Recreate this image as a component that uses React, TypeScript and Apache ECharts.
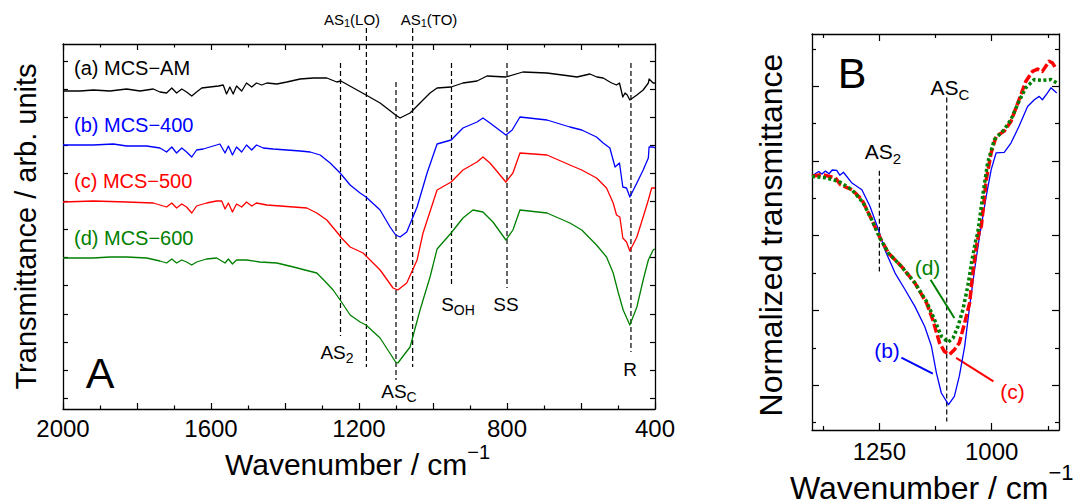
import { useEffect, useRef } from 'react';
import * as echarts from 'echarts';

const FAM = '"Liberation Sans", Arial, sans-serif';
const TICKFAM = '"Liberation Sans", Arial, sans-serif';

// ---------- Panel A data: [wavenumber (cm-1), transmittance (arb. units, offset)] ----------
const mcsAM: [number, number][] = [
  [2000, 3.18], [1954, 3.18], [1918, 3.19], [1873, 3.18], [1828, 3.2], [1792, 3.18], [1756, 3.2], [1738, 3.17],
  [1720, 3.16], [1706, 3.21], [1693, 3.16], [1679, 3.2], [1666, 3.17], [1652, 3.13], [1639, 3.17], [1625, 3.21],
  [1603, 3.22], [1580, 3.23], [1567, 3.24], [1558, 3.15], [1549, 3.22], [1540, 3.15], [1531, 3.23], [1517, 3.18],
  [1504, 3.26], [1490, 3.22], [1477, 3.26], [1463, 3.24], [1449, 3.26], [1422, 3.25], [1395, 3.27], [1359, 3.3],
  [1323, 3.31], [1287, 3.31], [1260, 3.27], [1249, 3.28], [1181, 3.14], [1143, 3.06], [1101, 2.94], [1089, 2.91],
  [1062, 2.96], [1035, 3.06], [1008, 3.16], [989, 3.21], [951, 3.22], [919, 3.26], [881, 3.28], [854, 3.33],
  [803, 3.32], [757, 3.37], [692, 3.36], [630, 3.33], [611, 3.32], [576, 3.35], [557, 3.32], [540, 3.31],
  [522, 3.27], [517, 3.26], [504, 3.24], [496, 3.26], [487, 3.12], [481, 3.16], [475, 3.14], [468, 3.09],
  [449, 3.14], [432, 3.19], [418, 3.26], [416, 3.3], [405, 3.26], [400, 3.26],
];
const mcs400: [number, number][] = [
  [2000, 2.64], [1918, 2.64], [1864, 2.65], [1828, 2.63], [1774, 2.63], [1738, 2.61], [1720, 2.57], [1706, 2.62],
  [1693, 2.56], [1679, 2.61], [1666, 2.57], [1652, 2.52], [1639, 2.59], [1621, 2.6], [1594, 2.63], [1576, 2.65],
  [1562, 2.56], [1553, 2.63], [1542, 2.54], [1531, 2.62], [1517, 2.57], [1504, 2.64], [1490, 2.59], [1477, 2.64],
  [1459, 2.61], [1432, 2.6], [1395, 2.59], [1359, 2.58], [1332, 2.57], [1305, 2.54], [1278, 2.46], [1251, 2.36],
  [1224, 2.24], [1197, 2.16], [1181, 2.12], [1143, 1.99], [1116, 1.82], [1101, 1.74], [1089, 1.72], [1071, 1.77],
  [1043, 2.02], [1016, 2.36], [989, 2.65], [951, 2.69], [919, 2.81], [881, 2.87], [865, 2.91], [846, 2.86],
  [803, 2.74], [786, 2.79], [765, 2.92], [692, 2.89], [630, 2.82], [598, 2.79], [558, 2.72], [540, 2.66],
  [522, 2.61], [508, 2.42], [496, 2.46], [487, 2.22], [477, 2.21], [468, 2.12], [449, 2.26], [432, 2.39],
  [418, 2.51], [416, 2.62], [405, 2.62], [400, 2.61],
];
const mcs500: [number, number][] = [
  [2000, 2.07], [1918, 2.08], [1828, 2.07], [1756, 2.06], [1738, 2.04], [1720, 2.02], [1706, 2.06], [1693, 2.01],
  [1679, 2.05], [1666, 2.02], [1652, 1.96], [1639, 2.03], [1612, 2.06], [1585, 2.08], [1571, 2.08], [1562, 2.0],
  [1553, 2.06], [1542, 1.97], [1531, 2.05], [1517, 2.02], [1504, 2.07], [1490, 2.03], [1477, 2.06], [1449, 2.04],
  [1413, 2.03], [1377, 2.02], [1341, 2.01], [1314, 1.96], [1287, 1.89], [1260, 1.77], [1247, 1.71], [1224, 1.62],
  [1189, 1.56], [1143, 1.39], [1108, 1.21], [1095, 1.19], [1071, 1.26], [1043, 1.49], [1027, 1.76], [989, 2.19],
  [951, 2.27], [919, 2.39], [881, 2.47], [865, 2.52], [846, 2.46], [803, 2.27], [784, 2.36], [765, 2.56],
  [692, 2.54], [630, 2.44], [598, 2.39], [558, 2.31], [531, 2.21], [513, 2.06], [504, 1.94], [495, 1.92],
  [487, 1.71], [477, 1.67], [468, 1.58], [449, 1.72], [432, 1.92], [418, 2.09], [409, 2.21], [400, 2.21],
];
const mcs600: [number, number][] = [
  [2000, 1.51], [1918, 1.51], [1873, 1.52], [1828, 1.52], [1774, 1.51], [1738, 1.48], [1720, 1.46], [1706, 1.5],
  [1693, 1.46], [1679, 1.49], [1666, 1.47], [1652, 1.44], [1639, 1.47], [1612, 1.5], [1585, 1.51], [1562, 1.46],
  [1553, 1.5], [1542, 1.45], [1531, 1.49], [1504, 1.49], [1468, 1.47], [1422, 1.46], [1377, 1.42], [1346, 1.39],
  [1314, 1.36], [1290, 1.27], [1270, 1.19], [1251, 1.09], [1224, 0.94], [1197, 0.87], [1181, 0.84], [1143, 0.71],
  [1101, 0.47], [1095, 0.46], [1062, 0.62], [1035, 0.99], [1008, 1.32], [989, 1.6], [951, 1.76], [919, 1.91],
  [892, 1.99], [865, 1.97], [838, 1.87], [803, 1.69], [784, 1.79], [765, 1.99], [692, 1.96], [630, 1.86],
  [598, 1.79], [558, 1.64], [531, 1.52], [513, 1.36], [499, 1.16], [486, 0.99], [468, 0.84], [449, 1.02],
  [432, 1.29], [418, 1.49], [405, 1.59], [400, 1.6],
];

// ---------- Panel B data: [wavenumber, normalized transmittance] ----------
const normB400: [number, number][] = [
  [1400, 0.759], [1393, 0.766], [1385, 0.772], [1378, 0.765], [1370, 0.773], [1362, 0.766], [1355, 0.776],
  [1345, 0.775], [1338, 0.762], [1330, 0.77], [1311, 0.741], [1289, 0.723], [1271, 0.679], [1252, 0.616],
  [1238, 0.563], [1215, 0.5], [1193, 0.456], [1171, 0.411], [1149, 0.357], [1134, 0.304], [1123, 0.233],
  [1112, 0.179], [1096, 0.148], [1083, 0.17], [1072, 0.224], [1060, 0.304], [1049, 0.411], [1038, 0.509],
  [1027, 0.598], [1012, 0.706], [1001, 0.777], [990, 0.822], [972, 0.823], [957, 0.848], [939, 0.893],
  [920, 0.946], [905, 0.964], [894, 0.973], [887, 0.964], [876, 0.982], [868, 0.996], [855, 0.982],
];
const normB500: [number, number][] = [
  [1400, 0.759], [1378, 0.764], [1348, 0.755], [1337, 0.737], [1311, 0.723], [1289, 0.697], [1267, 0.643],
  [1249, 0.596], [1230, 0.554], [1201, 0.518], [1171, 0.474], [1145, 0.42], [1131, 0.375], [1116, 0.313],
  [1105, 0.29], [1094, 0.282], [1083, 0.295], [1072, 0.313], [1060, 0.367], [1049, 0.42], [1042, 0.5],
  [1035, 0.563], [1027, 0.616], [1023, 0.625], [1012, 0.75], [1001, 0.822], [990, 0.866], [972, 0.88],
  [957, 0.906], [939, 0.964], [924, 1.013], [909, 1.04], [898, 1.046], [887, 1.04], [872, 1.067], [865, 1.063],
  [855, 1.045],
];
const normB600: [number, number][] = [
  [1400, 0.759], [1370, 0.755], [1341, 0.746], [1311, 0.723], [1286, 0.688], [1267, 0.643], [1249, 0.594],
  [1230, 0.554], [1201, 0.518], [1171, 0.474], [1145, 0.424], [1127, 0.375], [1112, 0.331], [1097, 0.315],
  [1086, 0.326], [1075, 0.357], [1064, 0.402], [1053, 0.465], [1045, 0.527], [1035, 0.59], [1031, 0.607],
  [1020, 0.706], [1009, 0.795], [994, 0.857], [972, 0.884], [957, 0.911], [939, 0.96], [924, 0.996],
  [905, 1.018], [887, 1.016], [868, 1.018], [855, 1.009],
];

// ---------- axes / ticks ----------
const tickLabelsA = [2000, 1600, 1200, 800, 400];
const yTicksA = [0.11, 0.39, 0.67, 0.95, 1.24, 1.52, 1.8, 2.08, 2.36, 2.64, 2.92, 3.2, 3.48];
const tickLabelsB = [1250, 1000];
const minorXTicksB = [1375, 1125, 875];
const majorYTicksB = [0.2, 0.4, 0.6, 0.8, 1.0];
const minorYTicksB = [0.1, 0.3, 0.5, 0.7, 0.9, 1.1];

// band marker lines: [wavenumber, top, bottom]
const bandLinesA: [number, number, number][] = [
  [1250, 3.46, 0.73], [1180, 3.81, 0.42], [1100, 3.27, 0.29], [1055, 3.81, 0.42],
  [950, 3.46, 1.22], [800, 3.46, 1.21], [465, 3.46, 0.57],
];
const bandLinesB: [number, number, number][] = [
  [1250, 0.774, 0.504], [1100, 0.97, 0.103],
];
// leader lines in B: [[wn1, v1], [wn2, v2], color]
const leadersB: [[number, number], [number, number], string][] = [
  [[1136, 0.482], [1083, 0.38], '#008000'],
  [[1201, 0.274], [1131, 0.231], '#0000ff'],
  [[1079, 0.273], [996, 0.21], '#ff0000'],
];

const BLACK = '#000000';
const BLUE = '#0000ff';
const RED = '#ff0000';
const GREEN = '#008000';

let mctx: CanvasRenderingContext2D | null = null;
function textWidth(t: string, size: number) {
  if (!mctx) mctx = document.createElement('canvas').getContext('2d');
  if (!mctx) return t.length * size * 0.55;
  mctx.font = `${size}px "Liberation Sans"`;
  return mctx.measureText(t).width;
}
type Part = { t: string; size: number; dy?: number };
function richText(parts: Part[], x: number, y: number, color: string, anchor: 'left' | 'center' = 'center') {
  const widths = parts.map((p) => textWidth(p.t, p.size));
  const total = widths.reduce((a, b) => a + b, 0);
  let cx = anchor === 'center' ? x - total / 2 : x;
  return parts.map((p, i) => {
    const el = {
      type: 'text',
      x: cx,
      y: y + (p.dy || 0),
      silent: true,
      style: { text: p.t, fontSize: p.size, fontFamily: FAM, fill: color, align: 'left', verticalAlign: 'middle' },
    };
    cx += widths[i];
    return el;
  });
}
function plain(text: string, x: number, y: number, size: number, color: string, align = 'center', rotation = 0) {
  return {
    type: 'text', x, y, rotation, silent: true,
    style: { text, fontSize: size, fontFamily: FAM, fill: color, align, verticalAlign: 'middle' },
  };
}

function frameAxis(extra: any) {
  return {
    type: 'value',
    axisLine: { show: true, onZero: false, lineStyle: { color: BLACK, width: 1.3 } },
    splitLine: { show: false },
    axisLabel: { show: false },
    ...extra,
  };
}

const plainNum = (v: number) => String(Math.round(v));

export default function App() {
  const ref = useRef<HTMLDivElement>(null);
  useEffect(() => {
    document.body.style.margin = '0';
    if (!ref.current) return;
    const chart = echarts.init(ref.current, undefined, { renderer: 'svg' });

    const xAxisA = {
      min: 400, max: 2000, interval: 200, inverse: true,
    };
    const xAxes = [
      frameAxis({
        gridIndex: 0, position: 'bottom', ...xAxisA,
        axisTick: { show: true, inside: true, length: 6, lineStyle: { color: BLACK, width: 1.2 } },
        minorTick: { show: true, splitNumber: 2, length: 3.5, lineStyle: { color: BLACK, width: 1.2 } },
        axisLabel: {
          show: true, customValues: tickLabelsA, margin: 7, fontSize: 24, fontFamily: TICKFAM, color: BLACK,
          showMinLabel: true, showMaxLabel: true, formatter: plainNum,
        },
      }),
      frameAxis({
        gridIndex: 0, position: 'top', ...xAxisA,
        axisTick: { show: true, inside: true, length: 6, lineStyle: { color: BLACK, width: 1.2 } },
        minorTick: { show: true, splitNumber: 2, length: 3.5, lineStyle: { color: BLACK, width: 1.2 } },
      }),
      frameAxis({
        gridIndex: 1, position: 'bottom', min: 850, max: 1400, inverse: true,
        axisTick: { show: true, inside: true, length: 7, customValues: tickLabelsB, lineStyle: { color: BLACK, width: 1.2 } },
        axisLabel: {
          show: true, customValues: tickLabelsB, margin: 9, fontSize: 24, fontFamily: TICKFAM, color: BLACK,
          formatter: plainNum,
        },
      }),
      frameAxis({
        gridIndex: 1, position: 'top', min: 850, max: 1400, inverse: true,
        axisTick: { show: true, inside: true, length: 7, customValues: tickLabelsB, lineStyle: { color: BLACK, width: 1.2 } },
      }),
      frameAxis({
        gridIndex: 1, position: 'bottom', min: 850, max: 1400, inverse: true,
        axisLine: { show: false },
        axisTick: { show: true, inside: true, length: 4, customValues: minorXTicksB, lineStyle: { color: BLACK, width: 1.2 } },
      }),
      frameAxis({
        gridIndex: 1, position: 'top', min: 850, max: 1400, inverse: true,
        axisLine: { show: false },
        axisTick: { show: true, inside: true, length: 4, customValues: minorXTicksB, lineStyle: { color: BLACK, width: 1.2 } },
      }),
    ];
    const yAxes = [
      frameAxis({
        gridIndex: 0, position: 'left', min: 0, max: 3.65,
        axisTick: { show: true, inside: true, length: 5, customValues: yTicksA, lineStyle: { color: BLACK, width: 1.2 } },
      }),
      frameAxis({
        gridIndex: 0, position: 'right', min: 0, max: 3.65,
        axisTick: { show: true, inside: true, length: 5, customValues: yTicksA, lineStyle: { color: BLACK, width: 1.2 } },
      }),
      frameAxis({
        gridIndex: 1, position: 'left', min: 0.08, max: 1.14,
        axisTick: { show: true, inside: true, length: 7, customValues: majorYTicksB, lineStyle: { color: BLACK, width: 1.2 } },
      }),
      frameAxis({
        gridIndex: 1, position: 'right', min: 0.08, max: 1.14,
        axisTick: { show: true, inside: true, length: 7, customValues: majorYTicksB, lineStyle: { color: BLACK, width: 1.2 } },
      }),
      frameAxis({
        gridIndex: 1, position: 'left', min: 0.08, max: 1.14, axisLine: { show: false },
        axisTick: { show: true, inside: true, length: 4, customValues: minorYTicksB, lineStyle: { color: BLACK, width: 1.2 } },
      }),
      frameAxis({
        gridIndex: 1, position: 'right', min: 0.08, max: 1.14, axisLine: { show: false },
        axisTick: { show: true, inside: true, length: 4, customValues: minorYTicksB, lineStyle: { color: BLACK, width: 1.2 } },
      }),
    ];

    const curve = (data: [number, number][], color: string, xi: number, yi: number, width: number, type: any = 'solid', z = 3) => ({
      type: 'line', data, xAxisIndex: xi, yAxisIndex: yi, showSymbol: false, symbol: 'none', silent: true, z,
      lineStyle: { color, width, type, cap: 'butt', join: 'round' },
    });
    const dashSeg = (p1: [number, number], p2: [number, number], xi: number, yi: number, color: string, width: number, type: any) => ({
      type: 'line', data: [p1, p2], xAxisIndex: xi, yAxisIndex: yi, showSymbol: false, symbol: 'none', silent: true,
      clip: false, z: 2, lineStyle: { color, width, type },
    });

    const series: any[] = [
      ...bandLinesA.map(([w, t, b]) => dashSeg([w, t], [w, b], 0, 0, BLACK, 1.2, [5, 3])),
      curve(mcsAM, BLACK, 0, 0, 1.3),
      curve(mcs400, BLUE, 0, 0, 1.3),
      curve(mcs500, RED, 0, 0, 1.3),
      curve(mcs600, GREEN, 0, 0, 1.3),
      ...bandLinesB.map(([w, t, b]) => dashSeg([w, t], [w, b], 2, 2, BLACK, 1.2, [5, 3])),
      ...leadersB.map(([p1, p2, c]) => dashSeg(p1, p2, 2, 2, c, 2, 'solid')),
      curve(normB400, BLUE, 2, 2, 1.3, 'solid', 3),
      curve(normB500, RED, 2, 2, 3.5, [9, 3], 4),
      curve(normB600, GREEN, 2, 2, 3.5, [3, 2.5], 5),
    ];

    const sub = (main: string, s: string, size: number, subSize: number, dy: number): Part[] => [
      { t: main, size }, { t: s, size: subSize, dy },
    ];

    const elements: any[] = [
      // panel A curve labels
      ...richText([{ t: '(a) MCS\u2212AM', size: 20 }], 74, 68, BLACK, 'left'),
      ...richText([{ t: '(b) MCS\u2212400', size: 20 }], 74, 124.5, BLUE, 'left'),
      ...richText([{ t: '(c) MCS\u2212500', size: 20 }], 74, 181, RED, 'left'),
      ...richText([{ t: '(d) MCS\u2212600', size: 20 }], 74, 237.7, GREEN, 'left'),
      plain('A', 100, 372.5, 43, BLACK),
      // band labels A
      ...richText([{ t: 'AS', size: 15 }, { t: '1', size: 11, dy: 4 }, { t: '(LO)', size: 15 }], 352, 19, BLACK),
      ...richText([{ t: 'AS', size: 15 }, { t: '1', size: 11, dy: 4 }, { t: '(TO)', size: 15 }], 429, 19, BLACK),
      ...richText(sub('AS', '2', 19, 14, 6), 337, 352, BLACK),
      ...richText(sub('AS', 'C', 19, 14, 6), 399, 391, BLACK),
      ...richText(sub('S', 'OH', 19, 14, 6), 458, 304, BLACK),
      plain('SS', 506, 304, 19, BLACK),
      plain('R', 630, 369, 19, BLACK),
      // axis titles A
      ...richText([{ t: 'Wavenumber / cm', size: 30 }, { t: '\u22121', size: 20, dy: -12 }], 225, 464, BLACK, 'left'),
      plain('Transmittance / arb. units', 25.5, 226.5, 29, BLACK, 'center', Math.PI / 2),
      // panel B
      plain('B', 852, 72.5, 43, BLACK),
      ...richText(sub('AS', 'C', 21, 15, 7), 950, 87.5, BLACK),
      ...richText(sub('AS', '2', 21, 15, 7), 883, 151, BLACK),
      plain('(d)', 927.5, 267, 21, GREEN),
      plain('(b)', 887, 350, 21, BLUE),
      plain('(c)', 1012.5, 391.7, 21, RED),
      ...richText([{ t: 'Wavenumber / cm', size: 32 }, { t: '\u22121', size: 22, dy: -15.5 }], 790, 487.5, BLACK, 'left'),
      plain('Normalized transmittance', 770.5, 235, 32, BLACK, 'center', Math.PI / 2),
    ];

    chart.setOption({
      animation: false,
      backgroundColor: '#ffffff',
      grid: [
        { left: 63, top: 44, width: 592, height: 365, containLabel: false },
        { left: 812, top: 34, width: 247, height: 396, containLabel: false },
      ],
      xAxis: xAxes,
      yAxis: yAxes,
      series,
      graphic: { elements },
    });
    return () => chart.dispose();
  }, []);
  return <div ref={ref} style={{ width: 1088, height: 504 }} />;
}
